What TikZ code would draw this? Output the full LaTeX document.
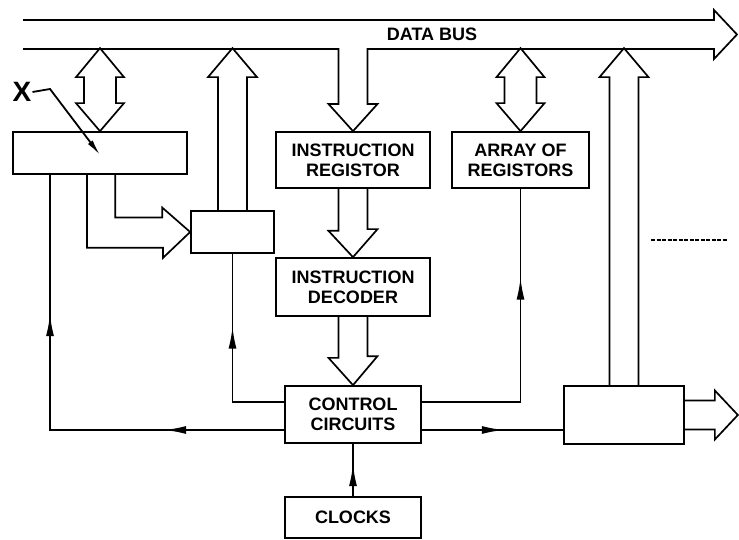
\documentclass[tikz,border=0pt]{standalone}
\usepackage{fontspec}
\setmainfont{Liberation Sans}
\usetikzlibrary{arrows.meta}
\usetikzlibrary{decorations.markings}
\usetikzlibrary{calc}
\tikzset{
	block/.style = {
		rectangle,
		draw=black,
		fill=white,
		inner sep=0pt,
		align=center,
		font=\fontsize{18}{20}\selectfont\bfseries,
		line width=1.7pt
	},
	label_x/.style = {
		inner sep=1pt,
		font=\fontsize{28}{30}\selectfont\bfseries
	},
	fat/.style = {
		draw=black,
		line width=1.7pt,
		line join=miter
	},
	wire/.style = {
		draw=black,
		line width=1.8pt
	},
	tipat/.style = {
		postaction={decorate,
			decoration={markings,
				mark=at position #1 with {\arrow{Latex[length=22pt,width=8pt]}}}}
	},
}

\begin{document}
\begin{tikzpicture}[x=1pt,y=-1pt]
\useasboundingbox (0,0) rectangle (739,540);
% blocks
\node [block, minimum width=174pt, minimum height=42pt] (lbox) at (100,153) {};
\node [block, minimum width=83pt, minimum height=42pt] (sbox) at (232.5,232) {};
\node [block, minimum width=154pt, minimum height=56pt] (ir) at (353,160) {INSTRUCTION\\REGISTOR};
\node [block, minimum width=154pt, minimum height=58pt] (dec) at (353,287) {INSTRUCTION\\DECODER};
\node [block, minimum width=137pt, minimum height=56pt] (arr) at (520.5,160) {ARRAY OF\\REGISTORS};
\node [block, minimum width=136pt, minimum height=57pt] (ctrl) at (353,414.5) {CONTROL\\CIRCUITS};
\node [block, minimum width=136pt, minimum height=41pt] (clk) at (353,517.5) {CLOCKS};
\node [block, minimum width=120pt, minimum height=58pt] (rbox) at (624,415) {};
\node [block, draw=none, fill=none] (bus) at (432,34) {DATA BUS};
\node [label_x] (xlbl) at (22,92) {X};

% data bus with the branch into the instruction register
\draw [fat] (23,20) -- (714,20) -- (714,10) -- (737,34.5) -- (714,59) -- (714,49)
	-- (367.5,49) -- (367.5,104) -- (377.5,104) -- (ir.north) -- (328.5,104)
	-- (338.5,104) -- (338.5,49) -- (23,49);

% two-way arrows
\draw [fat] (lbox.north) -- ++(-24,-28) -- ++(8,0) -- ++(0,-26) -- ++(-8,0)
	-- ++(24,-29) -- ++(24,29) -- ++(-8,0) -- ++(0,26) -- ++(8,0) -- cycle;
\draw [fat] (arr.north) -- ++(-24,-28) -- ++(8,0) -- ++(0,-26) -- ++(-8,0)
	-- ++(24,-29) -- ++(24,29) -- ++(-8,0) -- ++(0,26) -- ++(8,0) -- cycle;

% arrows up to the bus
\draw [fat] ($(sbox.north)+(-14.5,0)$) -- ++(0,-133) -- ++(-10,0) -- ++(24.5,-29)
	-- ++(24.5,29) -- ++(-10,0) -- ++(0,133);
\draw [fat] ($(rbox.north)+(-14.5,0)$) -- ++(0,-308) -- ++(-10,0) -- ++(24.5,-29)
	-- ++(24.5,29) -- ++(-10,0) -- ++(0,308);

% arrows down the middle
\draw [fat] ($(ir.south)+(-14.5,0)$) -- ++(0,42) -- ++(-10,0) -- (dec.north)
	-- ++(24.5,-28) -- ++(-10,0) -- ++(0,-42);
\draw [fat] ($(dec.south)+(-14.5,0)$) -- ++(0,41) -- ++(-10,0) -- (ctrl.north)
	-- ++(24.5,-29) -- ++(-10,0) -- ++(0,-41);

% bent arrow into the small box
\draw [fat] ($(lbox.south)+(-13,0)$) -- ++(0,73) -- ++(76,0) -- ++(0,10) -- (sbox.west)
	-- ++(-28,-24.5) -- ++(0,10) -- ++(-47,0) -- ++(0,-43.5);

% output arrow
\draw [fat] ($(rbox.east)+(0,-14.5)$) -- ++(30,0) -- ++(0,-10) -- ++(23,24.5)
	-- ++(-23,24.5) -- ++(0,-10) -- ++(-30,0);

% control lines
\coordinate (lfoot) at (50,430);
\coordinate (cw1) at ($(ctrl.west)+(0,-12.5)$);
\coordinate (cw2) at ($(ctrl.west)+(0,15.5)$);
\coordinate (ce1) at ($(ctrl.east)+(0,-12.5)$);
\coordinate (ce2) at ($(ctrl.east)+(0,15.5)$);
\draw [wire, tipat=120pt, tipat=350pt] (cw2) -- (lfoot) -- (lfoot |- lbox.south);
\draw [wire, tipat=127pt] (cw1) -- (cw1 -| sbox.south) -- (sbox.south);
\draw [wire, tipat=223pt] (ce1) -- (ce1 -| arr.south) -- (arr.south);
\draw [wire, tipat=82pt] (ce2) -- (ce2 -| rbox.west);
\draw [wire, tipat=32pt] (clk.north) -- (ctrl.south);

% pointer from X
\coordinate (xtip) at (100,155);
\draw [wire, -{Latex[length=16pt,width=6pt]}] (xlbl.east) -- (50,89) -- (xtip);

% more to follow
\draw [line width=2pt, dash pattern=on 4pt off 1.5pt] (651,240) -- (727,240);
\end{tikzpicture}
\end{document}
